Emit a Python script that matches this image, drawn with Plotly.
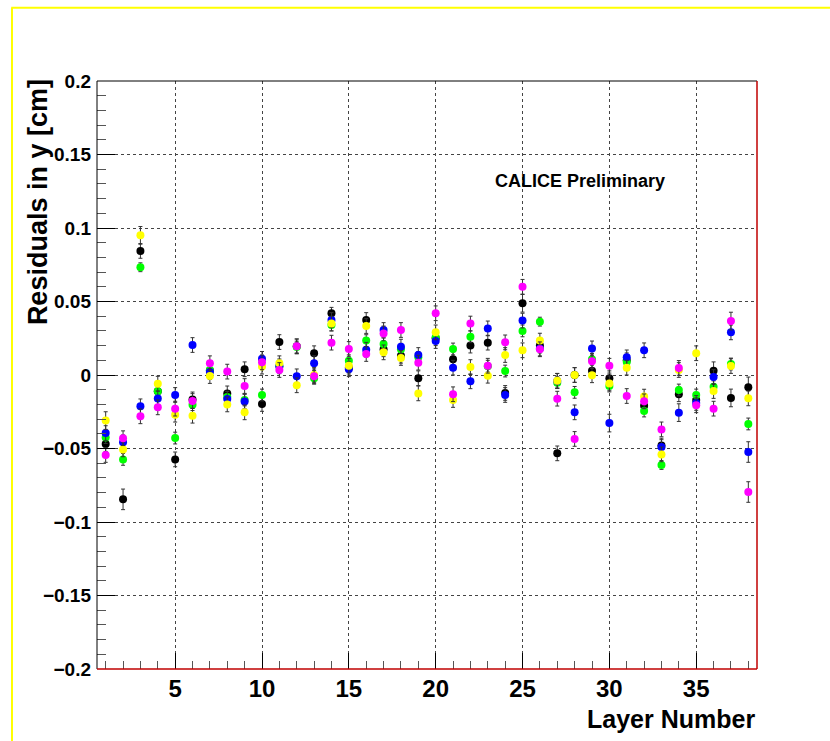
import plotly.graph_objects as go

layers = list(range(1, 39))

black = [-0.047, -0.0846, 0.0844, -0.011, -0.0574, -0.0166, 0.003, -0.0125, 0.0039, -0.0197,
         0.0224, 0.0195, 0.0148, 0.042, 0.005, 0.0374, 0.0175, 0.0131, -0.0022, 0.025,
         0.0107, 0.020, 0.022, -0.0122, 0.0488, 0.020, -0.0533, 0.0, 0.0029, -0.0022,
         0.010, -0.0209, -0.048, -0.0131, -0.017, 0.0029, -0.0156, -0.0084]
green = [-0.0426, -0.0574, 0.0733, -0.0111, -0.0429, -0.0202, 0.0034, -0.015, -0.017, -0.0136,
         0.006, 0.019, -0.0022, 0.034, 0.0097, 0.0234, 0.0211, 0.0175, 0.012, 0.0256,
         0.0177, 0.026, 0.006, 0.0027, 0.030, 0.0363, -0.0052, -0.0118, 0.0107, -0.0075,
         0.0088, -0.0245, -0.0612, -0.0102, -0.0136, -0.008, 0.0075, -0.0333]
blue = [-0.0395, -0.0458, -0.0213, -0.016, -0.0136, 0.0204, 0.002, -0.0163, -0.018, 0.011,
        0.0059, -0.0009, 0.008, 0.0374, 0.0039, 0.0172, 0.0306, 0.0193, 0.0136, 0.0231,
        0.005, -0.0043, 0.0317, -0.0136, 0.037, 0.018, -0.004, -0.0254, 0.0181, -0.0327,
        0.012, 0.0168, -0.049, -0.0256, -0.019, -0.0014, 0.029, -0.0524]
yellow = [-0.031, -0.0506, 0.095, -0.0059, -0.027, -0.0277, -0.0007, -0.020, -0.0254, 0.0057,
          0.008, -0.007, 0.0, 0.035, 0.0063, 0.0333, 0.0154, 0.0116, -0.0125, 0.029,
          -0.017, 0.0054, -0.0005, 0.0136, 0.0168, 0.0234, -0.0039, 0.0, -0.0002, -0.0057,
          0.005, -0.0147, -0.054, 0.0034, 0.0148, -0.0109, 0.0061, -0.0159]
magenta = [-0.0544, -0.043, -0.0281, -0.022, -0.0229, -0.0177, 0.008, 0.0023, -0.0075, 0.0086,
           0.0034, 0.0195, -0.0009, 0.022, 0.0177, 0.0143, 0.0283, 0.0306, 0.0084, 0.042,
           -0.0131, 0.035, 0.0063, 0.0222, 0.060, 0.0175, -0.0161, -0.0435, 0.0093, 0.0063,
           -0.0143, -0.0179, -0.037, 0.0048, -0.0206, -0.0229, 0.0367, -0.0796]

err_black = [0.005, 0.007, 0.005, 0.004, 0.005, 0.005, 0.004, 0.005, 0.005, 0.005,
             0.005, 0.005, 0.005, 0.004, 0.005, 0.005, 0.005, 0.005, 0.005, 0.005,
             0.005, 0.005, 0.005, 0.005, 0.006, 0.005, 0.005, 0.005, 0.005, 0.005,
             0.005, 0.005, 0.005, 0.005, 0.005, 0.006, 0.006, 0.007]
err_green = [0.004, 0.004, 0.003, 0.004, 0.004, 0.004, 0.004, 0.004, 0.004, 0.004,
             0.004, 0.004, 0.004, 0.004, 0.004, 0.004, 0.004, 0.004, 0.004, 0.004,
             0.004, 0.004, 0.004, 0.004, 0.004, 0.003, 0.004, 0.004, 0.004, 0.004,
             0.004, 0.004, 0.003, 0.004, 0.004, 0.004, 0.004, 0.004]
err_blue = [0.005, 0.005, 0.005, 0.005, 0.005, 0.005, 0.005, 0.005, 0.005, 0.005,
            0.005, 0.005, 0.005, 0.005, 0.005, 0.005, 0.005, 0.005, 0.005, 0.005,
            0.005, 0.005, 0.005, 0.005, 0.005, 0.005, 0.005, 0.005, 0.005, 0.006,
            0.005, 0.005, 0.005, 0.006, 0.005, 0.005, 0.005, 0.007]
err_yellow = [0.006, 0.005, 0.006, 0.005, 0.005, 0.005, 0.005, 0.005, 0.005, 0.005,
              0.005, 0.005, 0.005, 0.005, 0.005, 0.005, 0.005, 0.005, 0.005, 0.005,
              0.005, 0.005, 0.005, 0.005, 0.005, 0.005, 0.005, 0.005, 0.005, 0.005,
              0.005, 0.005, 0.005, 0.005, 0.005, 0.005, 0.005, 0.005]
err_magenta = [0.005, 0.005, 0.005, 0.005, 0.005, 0.005, 0.005, 0.005, 0.005, 0.005,
               0.005, 0.005, 0.005, 0.005, 0.005, 0.005, 0.005, 0.005, 0.005, 0.005,
               0.005, 0.005, 0.005, 0.005, 0.005, 0.005, 0.005, 0.005, 0.005, 0.005,
               0.005, 0.005, 0.005, 0.005, 0.005, 0.005, 0.006, 0.007]

series = [
    ("black", black, err_black, "#000000"),
    ("green", green, err_green, "#00ff00"),
    ("blue", blue, err_blue, "#0000ff"),
    ("yellow", yellow, err_yellow, "#ffff00"),
    ("magenta", magenta, err_magenta, "#ff00ff"),
]

fig = go.Figure()
for name, vals, errs, col in series:
    fig.add_trace(go.Scatter(
        x=layers, y=vals, mode="markers", name=name,
        marker=dict(color=col, size=8, symbol="circle", line=dict(width=0)),
        error_y=dict(type="data", array=errs, visible=True, color="#333333",
                     thickness=1, width=2),
        showlegend=False,
    ))

tickfont_y = dict(family="Liberation Sans, Arial", size=19, color="black", weight="bold")
tickfont_x = dict(family="Liberation Sans, Arial", size=24, color="black", weight="bold")

fig.update_xaxes(
    range=[0.5, 38.5], tickmode="linear", tick0=0, dtick=5,
    ticks="inside", ticklen=16, tickcolor="black", tickwidth=1,
    minor=dict(dtick=1, tick0=0, ticks="inside", ticklen=8, tickcolor="#555555", showgrid=False),
    showgrid=True, gridcolor="#444444", griddash="dot", gridwidth=1,
    showline=False, zeroline=False, tickfont=tickfont_x, ticklabelstandoff=3,
)
fig.update_yaxes(
    range=[-0.2, 0.2], tickmode="linear", tick0=0, dtick=0.05,
    ticks="inside", ticklen=18, tickcolor="black", tickwidth=1,
    minor=dict(dtick=0.01, tick0=0, ticks="inside", ticklen=9, tickcolor="#555555", showgrid=False),
    showgrid=True, gridcolor="#444444", griddash="dot", gridwidth=1,
    showline=False, zeroline=False, tickfont=tickfont_y, ticklabelstandoff=5,
    tickvals=[-0.2, -0.15, -0.1, -0.05, 0, 0.05, 0.1, 0.15, 0.2],
    ticktext=["-0.2", "-0.15", "-0.1", "-0.05", "0", "0.05", "0.1", "0.15", "0.2"],
)

shapes = [
    # frame
    dict(type="line", xref="paper", yref="paper", x0=0, x1=0, y0=0, y1=1, line=dict(color="black", width=1)),
    dict(type="line", xref="paper", yref="paper", x0=0, x1=1, y0=1, y1=1, line=dict(color="black", width=1)),
    dict(type="line", xref="paper", yref="paper", x0=0, x1=1, y0=0, y1=0, line=dict(color="#c00000", width=1.5)),
    dict(type="line", xref="paper", yref="paper", x0=1, x1=1, y0=0, y1=1, line=dict(color="#c00000", width=1.5)),
    # yellow canvas border
    dict(type="line", xref="paper", yref="paper", x0=-0.13, x1=1.2, y0=1.1245, y1=1.1245, line=dict(color="#ffff00", width=2)),
    dict(type="line", xref="paper", yref="paper", x0=-0.1288, x1=-0.1288, y0=-0.2, y1=1.1245, line=dict(color="#ffff00", width=2)),
]

annotations = [
    dict(text="Residuals in y [cm]", xref="paper", yref="paper", x=-0.0894, y=0.794,
         xanchor="center", yanchor="middle", textangle=-90, showarrow=False,
         font=dict(family="Liberation Sans, Arial", size=27, color="black", weight="bold")),
    dict(text="Layer Number", xref="paper", yref="paper", x=1.0, y=-0.0855,
         xanchor="right", yanchor="middle", showarrow=False,
         font=dict(family="Liberation Sans, Arial", size=25, color="black", weight="bold")),
    dict(text="CALICE Preliminary", xref="paper", yref="paper", x=0.6, y=0.830,
         xanchor="left", yanchor="middle", showarrow=False,
         font=dict(family="Liberation Sans, Arial", size=18, color="black", weight="bold")),
]

fig.update_layout(
    width=830, height=741,
    margin=dict(l=97, r=73, t=81, b=72),
    paper_bgcolor="white", plot_bgcolor="white",
    shapes=shapes, annotations=annotations,
)

fig.write_html("out.html")
